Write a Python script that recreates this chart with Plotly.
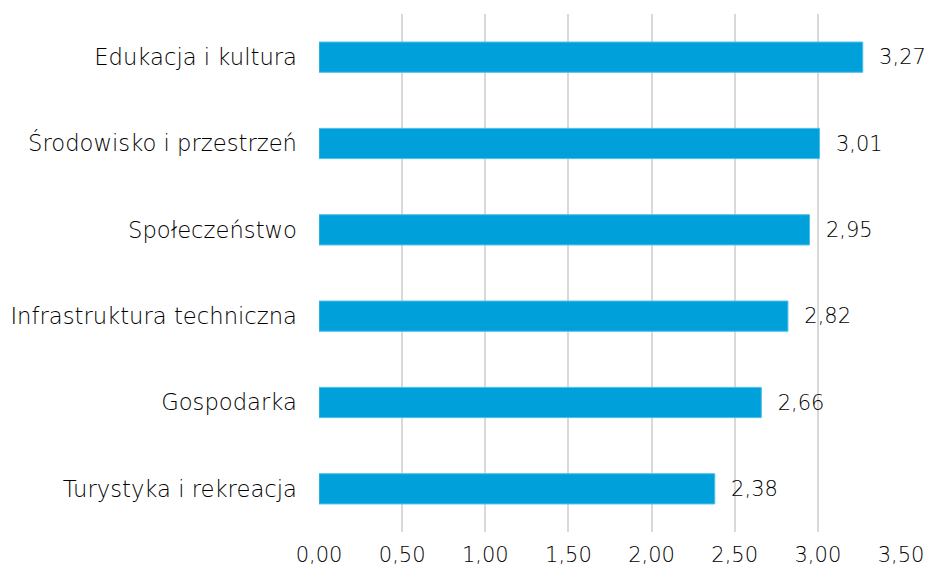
import plotly.graph_objects as go

categories = ["Edukacja i kultura", "Środowisko i przestrzeń", "Społeczeństwo",
              "Infrastruktura techniczna", "Gospodarka", "Turystyka i rekreacja"]
values = [3.27, 3.01, 2.95, 2.82, 2.66, 2.38]
tick_vals = [0, 0.5, 1.0, 1.5, 2.0, 2.5, 3.0, 3.5]

labels = ["  " + f"{v:.2f}".replace(".", ",") for v in values]

font_family = "'DejaVu Sans', sans-serif"

fig = go.Figure(go.Bar(
    x=values, y=categories, orientation="h",
    marker=dict(color="#00A1DB", line=dict(color="#4DBDE8", width=1)),
    text=labels, textposition="outside", cliponaxis=False,
    textfont=dict(size=21, color="#000000", family=font_family, weight=300),
    width=0.35,
))

fig.update_layout(
    width=928, height=572,
    margin=dict(l=319, r=27, t=14, b=40, autoexpand=False),
    plot_bgcolor="white", paper_bgcolor="white",
    separators=", ",
    showlegend=False,
    font=dict(family=font_family, size=21, color="#000000", weight=300),
    xaxis=dict(range=[0, 3.5], tickvals=tick_vals, tickformat=".2f",
               showgrid=True, gridcolor="#D9D9D9", gridwidth=1.5,
               zeroline=False, showline=False, ticks="", ticklabelstandoff=8,
               automargin=False, tickfont=dict(size=21)),
    yaxis=dict(autorange="reversed", showgrid=False, zeroline=False,
               showline=False, ticks="", ticklabelstandoff=21, automargin=False,
               tickfont=dict(size=22.7)),
)

fig.write_html(
    "out.html",
    config={"displayModeBar": False},
    post_script="document.body.style.margin='0';document.body.style.overflow='hidden';",
)
